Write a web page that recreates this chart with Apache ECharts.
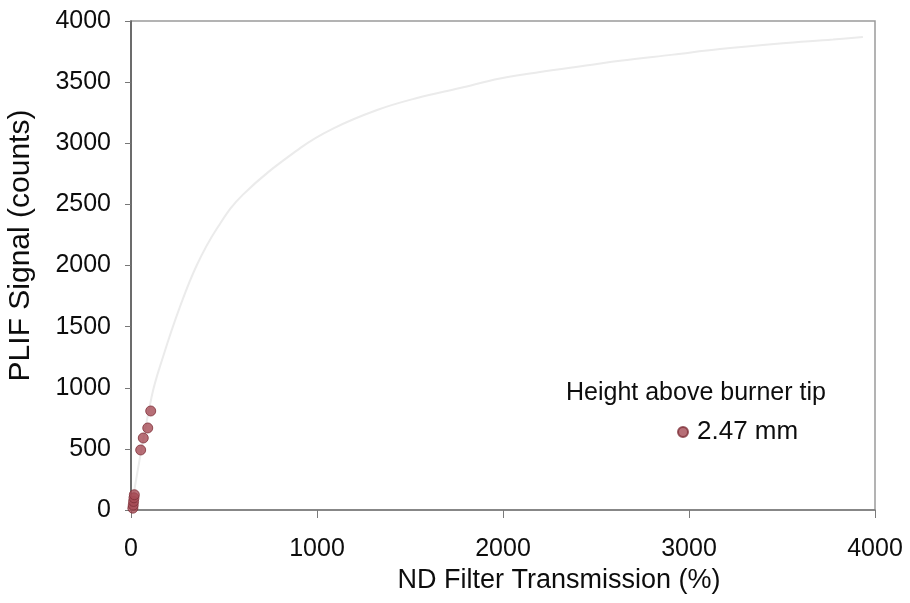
<!DOCTYPE html>
<html>
<head>
<meta charset="utf-8">
<title>PLIF Signal vs ND Filter Transmission</title>
<script src="https://cdn.jsdelivr.net/npm/echarts@6/dist/echarts.min.js"></script>
<style>
  html, body { margin: 0; padding: 0; background: #ffffff; }
  #chart { width: 910px; height: 603px; }
</style>
</head>
<body>
<div id="chart"></div>
<script>
// Measured PLIF signal at 2.47 mm above the burner tip
const transmission = [10, 12, 14, 16, 18, 52, 66, 90, 106];
const signal = [15, 40, 70, 100, 125, 491, 589, 671, 810];

// Saturation fit curve
const fitX = [0, 111, 172, 263, 353, 461, 602, 909, 1086, 1323, 1538, 1769, 1984, 2199, 2468, 2629, 2914, 3167, 3489, 3774, 3935];
const fitY = [0, 927, 1252, 1661, 2000, 2300, 2580, 2960, 3120, 3272, 3370, 3452, 3530, 3583, 3640, 3675, 3725, 3770, 3815, 3848, 3869];

const xTicks = [0, 1000, 2000, 3000, 4000];
const yTicks = [0, 500, 1000, 1500, 2000, 2500, 3000, 3500, 4000];

const seriesName = '2.47 mm';
const legendTitle = 'Height above burner tip';
const xTitle = 'ND Filter Transmission (%)';
const yTitle = 'PLIF Signal (counts)';

const FONT = '"Liberation Sans", Arial, sans-serif';
const TEXT = '#0d0d0d';
const chart = echarts.init(document.getElementById('chart'), null, { renderer: 'canvas' });

const option = {
  backgroundColor: '#ffffff',
  animation: false,
  grid: {
    left: 131, right: 35, top: 21, bottom: 93,
    outerBoundsMode: 'none', containLabel: false,
    show: true, borderColor: '#9a9a9a', borderWidth: 1.5, backgroundColor: 'transparent'
  },
  xAxis: {
    type: 'value',
    min: xTicks[0], max: xTicks[xTicks.length - 1], interval: 1000,
    name: xTitle, nameLocation: 'middle', nameGap: 56,
    nameTextStyle: { fontFamily: FONT, fontSize: 27, color: TEXT, padding: [0, 0, 0, 112] },
    axisLine: { show: true, lineStyle: { color: '#7a7a7a', width: 1.5 } },
    axisTick: { show: true, inside: false, length: 8, lineStyle: { color: '#7a7a7a' } },
    axisLabel: { margin: 27, fontFamily: FONT, fontSize: 25, color: TEXT,
      formatter: v => String(v) },
    splitLine: { show: false }
  },
  yAxis: {
    type: 'value',
    min: yTicks[0], max: yTicks[yTicks.length - 1], interval: 500,
    name: yTitle, nameLocation: 'middle', nameGap: 95, nameRotate: 90,
    nameTextStyle: { fontFamily: FONT, fontSize: 30, color: TEXT, padding: [0, 0, 0, 40] },
    axisLine: { show: true, lineStyle: { color: '#555555', width: 1.5 } },
    axisTick: { show: true, inside: false, length: 6, lineStyle: { color: '#777777' } },
    axisLabel: { margin: 20, fontFamily: FONT, fontSize: 25, color: TEXT,
      formatter: v => String(v) },
    splitLine: { show: false }
  },
  legend: {
    show: true,
    left: 672, top: 414,
    icon: 'circle', itemWidth: 10, itemHeight: 10, itemGap: 8,
    textStyle: { fontFamily: FONT, fontSize: 26, color: TEXT, padding: [0, 0, 0, 4] },
    data: [seriesName]
  },
  graphic: [{
    type: 'text', left: 566, top: 381,
    style: { text: legendTitle, font: '25px ' + FONT, fill: TEXT }
  }],
  series: [
    {
      name: 'fit', type: 'line', smooth: 0.4, showSymbol: false, silent: true,
      data: fitX.map((x, i) => [x, fitY[i]]),
      lineStyle: { color: '#ebebeb', width: 2 },
      z: 1
    },
    {
      name: seriesName, type: 'scatter',
      data: transmission.map((x, i) => [x, signal[i]]),
      symbol: 'circle', symbolSize: 10,
      itemStyle: { color: '#a54b55', borderColor: '#7e2f38', borderWidth: 1 },
      z: 3
    }
  ]
};
chart.setOption(option);
</script>
</body>
</html>
